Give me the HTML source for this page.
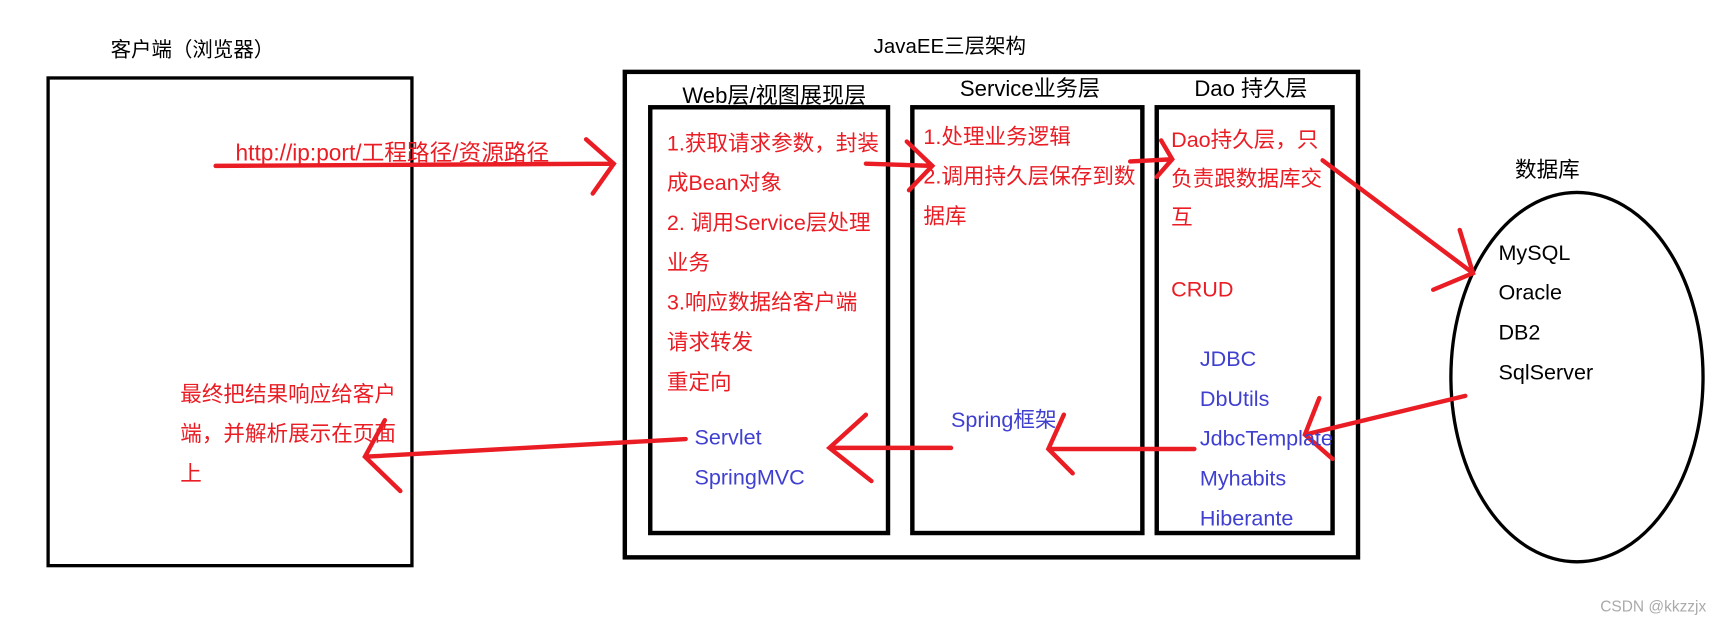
<!DOCTYPE html>
<html><head><meta charset="utf-8"><style>
html,body{margin:0;padding:0;background:#fff;width:1734px;height:625px;overflow:hidden}
#w{position:absolute;left:0;top:0;width:1568px;height:565px;transform:scale(1.10587);transform-origin:0 0;font-family:"Liberation Sans","Noto Sans CJK SC",sans-serif}
.t{position:absolute;white-space:nowrap;font-size:19.5px;line-height:20px}
.r{color:#ea1c24}.b{color:#3f3fd0}.k{color:#000}
.box{position:absolute;border:3px solid #000;box-sizing:border-box}
</style></head><body><div id="w">
<div class="box" style="left:42px;top:69px;width:332px;height:444px"></div>
<div class="box" style="left:563px;top:63px;width:667px;height:443px;border-width:4px"></div>
<div class="box" style="left:586px;top:95px;width:219px;height:389px;border-width:4px"></div>
<div class="box" style="left:823px;top:95px;width:212px;height:389px;border-width:4px"></div>
<div class="box" style="left:1044px;top:95px;width:163px;height:389px;border-width:4px"></div>
<svg style="position:absolute;left:0;top:0" width="1568" height="565">
<ellipse cx="1426" cy="341" rx="114" ry="167" fill="none" stroke="#000" stroke-width="3"/>
<g stroke="#ea1c24" stroke-width="4" fill="none" stroke-linecap="round">
<path d="M195 150 L555 148 M530 126 L555 148 L536 175"/>
<path d="M783 148 L843 150 M820 128 L843 150 L822 172"/>
<path d="M1022 146 L1060 144 M1050 127 L1060 144 L1046 160"/>
<path d="M1196 145 L1332 247 M1320 208 L1332 247 L1296 262"/>
<path d="M1325 358 L1180 393 M1193 360 L1180 393 L1205 415"/>
<path d="M1080 406 L948 406 M962 375 L948 406 L970 428"/>
<path d="M860 405 L750 405 M783 375 L750 405 L788 435"/>
<path d="M620 397 L330 413 M348 380 L330 413 L362 444"/>
</g></svg>
<div class="t k" style="left:100px;top:35px;font-size:18.5px">客户端（浏览器）</div>
<div class="t k" style="left:790px;top:32px;font-size:18.5px">JavaEE三层架构</div>
<div class="t k" style="left:617px;top:77px;font-size:20px">Web层/视图展现层</div>
<div class="t k" style="left:868px;top:71px;font-size:20px">Service业务层</div>
<div class="t k" style="left:1080px;top:71px;font-size:20px">Dao 持久层</div>
<div class="t k" style="left:1370px;top:144px">数据库</div>
<div class="t r" style="left:213px;top:129px;font-size:20.5px">http://ip:port/工程路径/资源路径</div>
<div class="t r" style="left:603px;top:112px;line-height:36px">1.获取请求参数，封装<br>成Bean对象<br>2. 调用Service层处理<br>业务<br>3.响应数据给客户端<br>请求转发<br>重定向</div>
<div class="t r" style="left:835px;top:106px;line-height:36px">1.处理业务逻辑<br>2.调用持久层保存到数<br>据库</div>
<div class="t r" style="left:1059px;top:110px;line-height:35px">Dao持久层，只<br>负责跟数据库交<br>互</div>
<div class="t r" style="left:1059px;top:252px">CRUD</div>
<div class="t b" style="left:1085px;top:307px;line-height:36px">JDBC<br>DbUtils<br>JdbcTemplate<br>Myhabits<br>Hiberante</div>
<div class="t b" style="left:628px;top:378px;line-height:36px">Servlet<br>SpringMVC</div>
<div class="t b" style="left:860px;top:370px">Spring框架</div>
<div class="t k" style="left:1355px;top:211px;line-height:36px">MySQL<br>Oracle<br>DB2<br>SqlServer</div>
<div class="t r" style="left:163px;top:339px;line-height:36px">最终把结果响应给客户<br>端，并解析展示在页面<br>上</div>
<div class="t" style="left:1447px;top:538px;font-size:14px;color:#aaa">CSDN @kkzzjx</div>
</div></body></html>
